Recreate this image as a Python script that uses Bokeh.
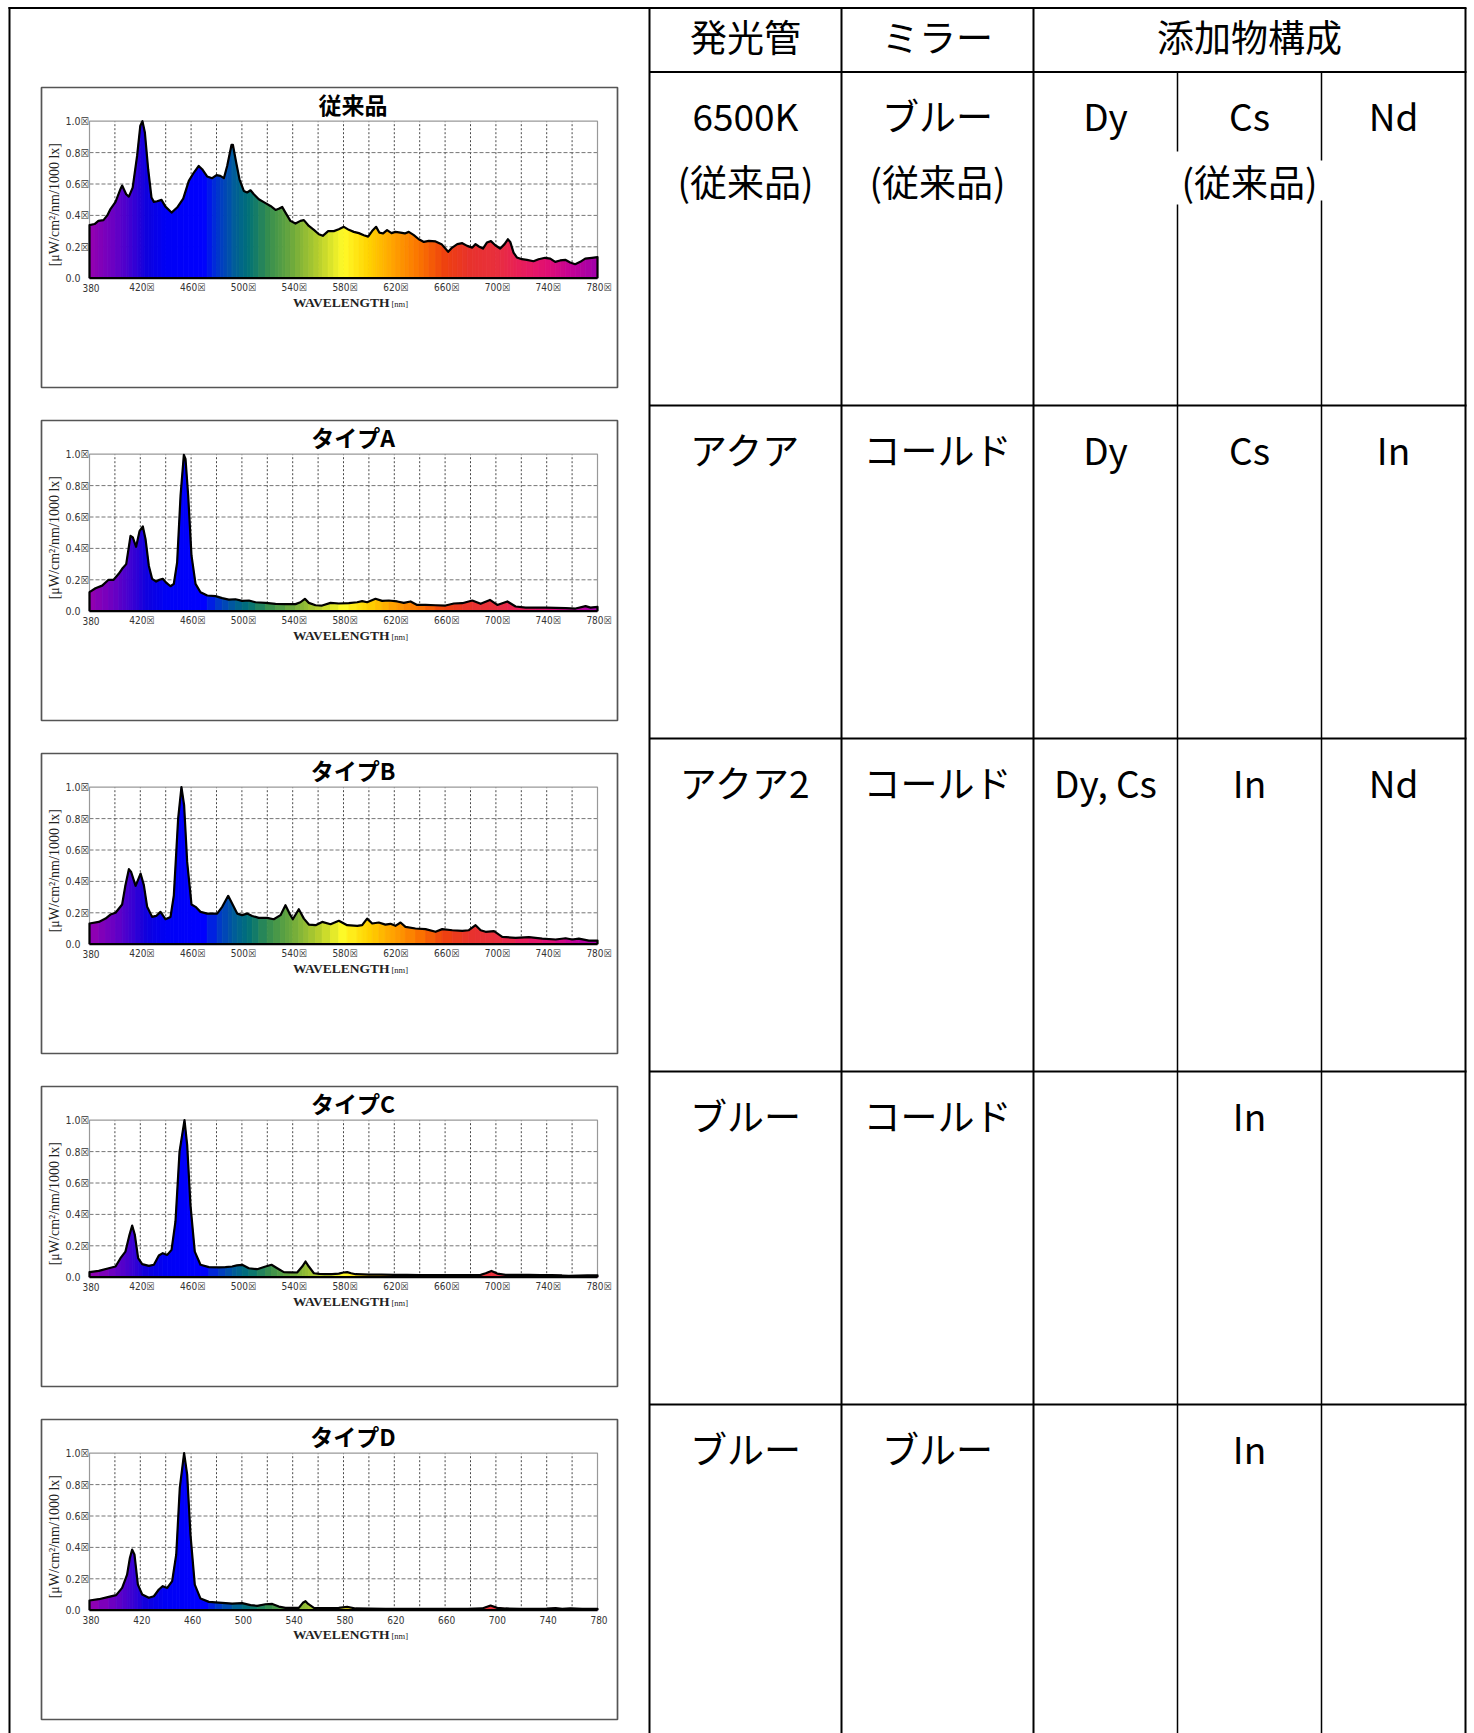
import numpy as np
from bokeh.plotting import figure
from bokeh.models import Range1d
from bokeh.core.properties import value
from bokeh.embed import file_html
from bokeh.resources import INLINE

# ---------------- data ----------------
chart_titles = ["従来品", "タイプA", "タイプB", "タイプC", "タイプD"]

wl_conv = [380, 384, 387, 391, 394, 396.5, 400.5, 404.5, 405.7, 408.9, 411, 414, 417.5, 420, 421.7,
           423.6, 426.2, 428.8, 430.7, 433.3, 436.7, 439.8, 444.6, 449, 453.8, 458.2, 462.2, 466,
           468.7, 472.6, 476.6, 480, 483, 485.8, 488.4, 491.8, 492.9, 495.5, 498.1, 501.5, 504.1,
           506.8, 509.4, 513.3, 518.6, 522.5, 526.5, 529, 531.7, 534.3, 538.2, 542.2, 546.1, 548.8,
           552.7, 556.7, 560.6, 563.7, 567.9, 572.4, 576.3, 580.3, 584.2, 588.1, 592.1, 596, 599.4,
           602.5, 605.7, 608.3, 611.2, 614.3, 617.8, 620.9, 624.9, 628.3, 631.4, 635.4, 639.3,
           643.3, 647.2, 652.5, 657.2, 662.4, 665.6, 669.6, 673.5, 677.4, 681.4, 684, 686.6, 689.8,
           692.9, 696.1, 699.5, 703.4, 706.8, 709.4, 711.3, 713.9, 716.5, 720.5, 724.4, 729.6,
           733.6, 738.8, 742.8, 746.7, 750.6, 754.6, 758.5, 762.4, 766.4, 770.3, 775.6, 780]
val_conv = [0.338, 0.345, 0.365, 0.37, 0.40, 0.44, 0.486, 0.57, 0.59, 0.535, 0.52, 0.577, 0.78, 0.97, 1.0,
            0.928, 0.694, 0.514, 0.486, 0.49, 0.499, 0.456, 0.418, 0.45, 0.507, 0.62, 0.673, 0.715,
            0.694, 0.648, 0.637, 0.656, 0.652, 0.637, 0.715, 0.849, 0.85, 0.737, 0.63, 0.556, 0.546,
            0.56, 0.535, 0.503, 0.478, 0.46, 0.435, 0.443, 0.454, 0.418, 0.365, 0.348, 0.365, 0.37,
            0.333, 0.308, 0.28, 0.27, 0.3, 0.3, 0.312, 0.327, 0.308, 0.295, 0.287, 0.274, 0.265,
            0.3, 0.327, 0.29, 0.285, 0.306, 0.287, 0.295, 0.29, 0.285, 0.295, 0.274, 0.248,
            0.231, 0.238, 0.234, 0.217, 0.168, 0.195, 0.217, 0.223, 0.206, 0.195, 0.217, 0.202, 0.189,
            0.227, 0.236, 0.21, 0.189, 0.217, 0.248, 0.231, 0.163, 0.132, 0.121, 0.117, 0.108,
            0.121, 0.13, 0.125, 0.104, 0.113, 0.117, 0.1, 0.089, 0.104, 0.125, 0.13, 0.134]

wl_a = [380, 384.7, 390, 395, 399, 403, 405.7, 408.9, 410.8, 412.3, 414.1, 416.7, 419.4, 422, 424.1,
        426.7, 429.3, 432.5, 435.1, 437.7, 440.6, 443.8, 446.4, 449, 451.7, 454.3, 455.6, 457.7,
        460.3, 463.5, 467.4, 472.7, 479.2, 484.5, 489.7, 495, 500.2, 505.5, 510.7, 518.6, 526.5,
        534.3, 542.2, 546.1, 549.6, 552.7, 558, 563.2, 569.8, 576.3, 584.2, 590.8, 594.7, 598.6,
        605.2, 610.4, 615.7, 622.3, 627.5, 632.8, 638, 644.6, 652.4, 660.3, 666.9, 673.5, 681.4,
        688, 695.3, 701.1, 709, 715.5, 723.4, 731, 739.2, 747, 754.9, 762.7, 770.6, 774.5, 780]
val_a = [0.121, 0.146, 0.163, 0.2, 0.2, 0.238, 0.27, 0.3, 0.40, 0.48, 0.47, 0.41, 0.51, 0.54, 0.46,
         0.29, 0.206, 0.189, 0.2, 0.206, 0.18, 0.159, 0.174, 0.31, 0.737, 0.996, 0.97, 0.737,
         0.355, 0.174, 0.121, 0.1, 0.096, 0.083, 0.074, 0.076, 0.066, 0.068, 0.057, 0.053, 0.047,
         0.045, 0.045, 0.057, 0.079, 0.053, 0.038, 0.036, 0.053, 0.049, 0.051, 0.057, 0.064, 0.057,
         0.079, 0.066, 0.068, 0.062, 0.053, 0.062, 0.04, 0.04, 0.038, 0.036, 0.049, 0.051, 0.068,
         0.047, 0.072, 0.04, 0.062, 0.03, 0.023, 0.023, 0.023, 0.021, 0.019, 0.017, 0.032, 0.023, 0.028]

wl_b = [380, 387.3, 392.6, 396.5, 400.5, 405.7, 408.3, 411, 412.8, 416.3, 420.2, 422.8, 425.4, 429.3,
        432.5, 435.9, 439.8, 443.8, 446.4, 449.8, 452.4, 454.5, 456.9, 460.3, 463.5, 467.4, 472.7,
        480.5, 484.5, 489.2, 492.3, 496.3, 500.2, 504.1, 508.1, 513.3, 519.9, 525.1, 530.4, 534.3,
        537.5, 540.1, 544.8, 548.8, 552.7, 558, 563.2, 569.8, 576.3, 582.9, 590.8, 594.7, 598.6,
        602.6, 607.8, 613, 617, 620.9, 624.9, 628.8, 636.7, 644.6, 652.5, 657.7, 665.6, 673.5,
        678.7, 684, 688, 691.9, 698.5, 705, 715.5, 726, 736.5, 747, 754.9, 760.1, 765.3, 773.2, 780]
val_b = [0.132, 0.142, 0.163, 0.189, 0.2, 0.253, 0.376, 0.478, 0.46, 0.372, 0.45, 0.376, 0.238, 0.174,
         0.18, 0.206, 0.159, 0.174, 0.31, 0.8, 1.0, 0.885, 0.524, 0.253, 0.238, 0.206, 0.195,
         0.195, 0.238, 0.308, 0.259, 0.195, 0.185, 0.195, 0.18, 0.168, 0.168, 0.159, 0.185, 0.248,
         0.195, 0.159, 0.223, 0.163, 0.125, 0.121, 0.142, 0.127, 0.149, 0.121, 0.117, 0.121, 0.163,
         0.132, 0.138, 0.125, 0.13, 0.117, 0.138, 0.11, 0.1, 0.096, 0.079, 0.096, 0.089, 0.085,
         0.089, 0.121, 0.089, 0.079, 0.083, 0.047, 0.04, 0.045, 0.036, 0.03, 0.038, 0.03, 0.036, 0.023, 0.023]

wl_c = [380, 387.3, 395.2, 400.5, 404.4, 408.3, 411.5, 413.6, 415.7, 418.3, 421.5, 426.7, 430.7,
        434.6, 437.7, 441.2, 444.6, 447.7, 450.9, 454.8, 456.9, 459.5, 462.9, 467.4, 474, 481.8,
        487, 492.3, 496, 500.2, 505.5, 512, 518.6, 523.3, 527.8, 533, 538, 543.5, 547.5, 550.1,
        552.7, 556.7, 561, 565.8, 571, 576.3, 580, 582.9, 586, 589.5, 595, 600, 610, 620, 630,
        640, 650, 660, 670, 680, 688, 692, 696.5, 701, 707.6, 716, 726, 735, 744, 752, 757.4,
        765, 772, 780]
val_c = [0.032, 0.04, 0.057, 0.068, 0.121, 0.163, 0.27, 0.329, 0.27, 0.121, 0.083, 0.072, 0.079,
         0.138, 0.153, 0.142, 0.174, 0.355, 0.8, 1.0, 0.843, 0.46, 0.163, 0.079, 0.064, 0.062,
         0.064, 0.068, 0.075, 0.079, 0.057, 0.051, 0.068, 0.079, 0.057, 0.032, 0.031, 0.03, 0.068, 0.1,
         0.068, 0.025, 0.021, 0.019, 0.02, 0.023, 0.03, 0.032, 0.025, 0.019, 0.018, 0.017, 0.016, 0.015, 0.015,
         0.014, 0.013, 0.013, 0.013, 0.013, 0.015, 0.025, 0.04, 0.023, 0.015, 0.015, 0.015, 0.014, 0.013, 0.011, 0.008,
         0.01, 0.011, 0.011]

wl_d = [380, 387.3, 395.2, 401, 405.7, 409.6, 411.8, 413.6, 415.4, 418.1, 421.5, 426.7, 430.7,
        434.6, 437.7, 441.2, 445.1, 448.3, 451.1, 454.5, 456.9, 459.5, 462.9, 467.4, 474, 479,
        484.5, 492.3, 500.2, 506.8, 512, 518.6, 523.9, 529.1, 534.3, 540, 544.8, 548, 550.1,
        552.2, 556.7, 561, 565.8, 571, 576.3, 582.9, 589.5, 600, 613.1, 626, 639.3, 652, 665.6,
        678, 689.2, 695.8, 701, 707.6, 719, 731.2, 740, 747, 752.2, 758.7, 767.9, 774, 780]
val_d = [0.062, 0.07, 0.085, 0.096, 0.142, 0.227, 0.333, 0.386, 0.355, 0.163, 0.1, 0.079, 0.089,
         0.132, 0.153, 0.142, 0.185, 0.355, 0.779, 1.0, 0.864, 0.482, 0.163, 0.074, 0.053, 0.05,
         0.047, 0.042, 0.045, 0.032, 0.028, 0.038, 0.04, 0.023, 0.015, 0.015, 0.015, 0.047, 0.057,
         0.04, 0.015, 0.014, 0.013, 0.014, 0.015, 0.021, 0.011, 0.01, 0.008, 0.008, 0.008, 0.008, 0.008,
         0.009, 0.011, 0.03, 0.015, 0.011, 0.009, 0.008, 0.01, 0.013, 0.008, 0.011, 0.008, 0.008, 0.008]

chart_wl = [wl_conv, wl_a, wl_b, wl_c, wl_d]
chart_val = [val_conv, val_a, val_b, val_c, val_d]

x_ticks = [380, 420, 460, 500, 540, 580, 620, 660, 700, 740, 780]
x_tick_labels_boxed = ["380", "420☒", "460☒", "500☒", "540☒", "580☒", "620☒", "660☒", "700☒", "740☒", "780☒"]
x_tick_labels_plain = ["380", "420", "460", "500", "540", "580", "620", "660", "700", "740", "780"]
chart_x_labels = [x_tick_labels_boxed] * 4 + [x_tick_labels_plain]
y_ticks = [0.0, 0.2, 0.4, 0.6, 0.8, 1.0]
y_tick_labels = ["0.0", "0.2☒", "0.4☒", "0.6☒", "0.8☒", "1.0☒"]
grid_x = [400, 420, 440, 460, 480, 500, 520, 540, 560, 580, 600, 620, 640, 660, 680, 700, 720, 740, 760]
grid_y = [0.2, 0.4, 0.6, 0.8]
x_title = "WAVELENGTH"
x_unit = "[nm]"
y_title = "[μW/cm²/nm/1000 lx]"

table_header = ["発光管", "ミラー", "添加物構成"]
col_lamp = ["6500K", "アクア", "アクア2", "ブルー", "ブルー"]
col_mirror = ["ブルー", "コールド", "コールド", "コールド", "ブルー"]
col_add1 = ["Dy", "Dy", "Dy, Cs", "", ""]
col_add2 = ["Cs", "Cs", "In", "In", "In"]
col_add3 = ["Nd", "In", "Nd", "", ""]
note_text = "(従来品)"

# ---------------- styles / layout ----------------
SPEC_WL = [380, 400, 415, 425, 440, 470, 480, 495, 505, 520, 540, 560, 580, 600, 620, 640, 660,
           680, 700, 720, 740, 760, 780]
SPEC_RGB = [(150, 0, 175), (105, 0, 195), (55, 0, 212), (15, 0, 222), (0, 0, 245), (0, 0, 255),
            (0, 50, 210), (0, 95, 150), (0, 112, 120), (50, 140, 80), (110, 170, 60), (180, 205, 45),
            (255, 250, 40), (255, 210, 0), (255, 160, 0), (250, 115, 0), (238, 65, 15), (232, 50, 45),
            (232, 48, 60), (232, 30, 90), (225, 15, 115), (195, 0, 150), (160, 0, 170)]


def spec_color(w):
    r = np.interp(w, SPEC_WL, [c[0] for c in SPEC_RGB])
    g = np.interp(w, SPEC_WL, [c[1] for c in SPEC_RGB])
    b = np.interp(w, SPEC_WL, [c[2] for c in SPEC_RGB])
    return "#%02x%02x%02x" % (int(round(r)), int(round(g)), int(round(b)))


W, H = 1474, 1733
ORG = 0
COLS = [649, 841, 1033, 1177, 1321, 1465]
COL_CENTERS = [745, 937, 1105, 1249, 1393]
TOP_Y = 7.5
LEFT_X = 9
HEADER_B = 71.5
ROW_TOPS = [71.5, 405, 738, 1071, 1404]
BOTTOM = ORG + H
BOX_L, BOX_R, BOX_T0, BOX_H, PITCH = 41, 617, 87, 300, 333
PLOT_L, PLOT_R = 89, 597
PLOT_TOP0, PLOT_ZERO0 = 120.7, 277.7
TXT_DY = -3

TABLE_FONT = value("Noto Sans CJK JP")
TICK_FONT = value("DejaVu Sans Condensed")
SERIF = value("Liberation Serif")

p = figure(width=W, height=H, x_range=Range1d(ORG, ORG + W), y_range=Range1d(ORG + H, ORG),
           output_backend="svg", toolbar_location=None, min_border=0,
           x_axis_type=None, y_axis_type=None, outline_line_color=None)
p.background_fill_color = "white"
p.border_fill_color = "white"

px_per_nm = (PLOT_R - PLOT_L) / 400.0
unit_px = PLOT_ZERO0 - PLOT_TOP0
p.extra_x_ranges = {"wl": Range1d(380 - (PLOT_L - ORG) / px_per_nm, 780 + (ORG + W - PLOT_R) / px_per_nm)}
yr = {}
for k in range(5):
    y0 = PLOT_ZERO0 + PITCH * k
    yr[f"c{k}"] = Range1d((y0 - (ORG + H)) / unit_px, (y0 - ORG) / unit_px)
p.extra_y_ranges = yr

# ---------------- page frame & table ----------------
hx0, hy0, hx1, hy1 = [], [], [], []
def seg(a, b, c, d):
    hx0.append(a); hy0.append(b); hx1.append(c); hy1.append(d)

seg(LEFT_X - 1, TOP_Y, COLS[-1] + 1, TOP_Y)
seg(LEFT_X, TOP_Y - 1, LEFT_X, BOTTOM)
for cx in [COLS[0], COLS[1], COLS[2], COLS[5]]:
    seg(cx, TOP_Y, cx, BOTTOM)
for ry in ROW_TOPS:
    seg(COLS[0], ry, COLS[-1] + 1, ry)
p.segment(x0=hx0, y0=hy0, x1=hx1, y1=hy1, line_color="black", line_width=2)

# sub-columns of 添加物構成 with gap for the "(従来品)" note
sx0 = [COLS[3], COLS[3], COLS[4], COLS[4]]
sy0 = [HEADER_B, 204, HEADER_B, 200]
sy1 = [151, BOTTOM, 160, BOTTOM]
p.segment(x0=sx0, y0=sy0, x1=sx0, y1=sy1, line_color="black", line_width=1.5)

hdr_x = [COL_CENTERS[0], COL_CENTERS[1], (COLS[2] + COLS[5]) / 2]
p.text(x=hdr_x, y=[38 + TXT_DY] * 3, text=table_header, text_font=TABLE_FONT, text_font_size="37px",
       text_align="center", text_baseline="middle", text_color="black")

tx, ty, tt = [], [], []
for r in range(5):
    yline = ROW_TOPS[r] + 46 + TXT_DY
    for c, col in enumerate([col_lamp, col_mirror, col_add1, col_add2, col_add3]):
        if col[r]:
            tx.append(COL_CENTERS[c]); ty.append(yline); tt.append(col[r])
# second line notes in first row
for c in [0, 1, 3]:
    tx.append(COL_CENTERS[c]); ty.append(ROW_TOPS[0] + 111.5 + TXT_DY); tt.append(note_text)
p.text(x=tx, y=ty, text=tt, text_font=TABLE_FONT, text_font_size="37px",
       text_align="center", text_baseline="middle", text_color="black")

# ---------------- spectra ----------------
for k in range(5):
    xn, yn = "wl", f"c{k}"
    wl, val = chart_wl[k], chart_val[k]
    top = BOX_T0 + PITCH * k
    p.quad(left=[BOX_L], right=[BOX_R], top=[top], bottom=[top + BOX_H],
           fill_color="white", line_color="#555555", line_width=1.7)

    n = len(grid_x)
    p.segment(x0=grid_x, y0=[0] * n, x1=grid_x, y1=[1] * n, line_color="#333333",
              line_dash="2 2", line_width=0.9, x_range_name=xn, y_range_name=yn)
    m = len(grid_y)
    p.segment(x0=[380] * m, y0=grid_y, x1=[780] * m, y1=grid_y, line_color="#666666",
              line_dash="4 2", line_width=0.9, x_range_name=xn, y_range_name=yn)
    p.multi_line(xs=[[380, 380, 780, 780]], ys=[[0, 1, 1, 0]], line_color="#999999",
                 line_width=1.2, x_range_name=xn, y_range_name=yn)

    xs, ys, cols = [], [], []
    for i in range(len(wl) - 1):
        xs.append([wl[i], wl[i], wl[i + 1], wl[i + 1]])
        ys.append([0, val[i], val[i + 1], 0])
        cols.append(spec_color((wl[i] + wl[i + 1]) / 2.0))
    p.patches(xs=xs, ys=ys, fill_color=cols, line_color=cols, line_width=0.8,
              x_range_name=xn, y_range_name=yn)
    p.line(x=[wl[0]] + wl + [wl[-1]], y=[0] + val + [0], line_color="black", line_width=2.2,
           line_join="round", x_range_name=xn, y_range_name=yn)
    p.segment(x0=[380], y0=[0], x1=[780], y1=[0], line_color="black", line_width=2.2,
              x_range_name=xn, y_range_name=yn)

    # tick labels
    p.text(x=[380] * len(y_ticks), y=y_ticks, text=y_tick_labels, x_offset=-24,
           text_align="left", text_baseline="middle", text_font=TICK_FONT,
           text_font_size="10.5px", text_color="#333333", x_range_name=xn, y_range_name=yn)
    p.text(x=x_ticks, y=[0] * len(x_ticks), text=chart_x_labels[k], x_offset=1.5, y_offset=9.5,
           text_align="center", text_baseline="middle", text_font=TICK_FONT,
           text_font_size="10px", text_color="#333333", x_range_name=xn, y_range_name=yn)
    # axis titles
    p.text(x=[580], y=[0], text=[x_title], x_offset=46, y_offset=24.5, text_align="right",
           text_baseline="middle", text_font=SERIF, text_font_style="bold",
           text_font_size="13.5px", text_color="#222222", x_range_name=xn, y_range_name=yn)
    p.text(x=[580], y=[0], text=[x_unit], x_offset=48, y_offset=25.5, text_align="left",
           text_baseline="middle", text_font=SERIF,
           text_font_size="8.5px", text_color="#222222", x_range_name=xn, y_range_name=yn)
    p.text(x=[380], y=[0.5], text=[y_title], x_offset=-35, y_offset=5, angle=np.pi / 2,
           text_align="center", text_baseline="middle", text_font=SERIF,
           text_font_size="14px", text_color="#222222", x_range_name=xn, y_range_name=yn)
    # chart title
    p.text(x=[580], y=[1.0], text=[chart_titles[k]], x_offset=9.5, y_offset=-17.5,
           text_align="center", text_baseline="middle", text_font=TABLE_FONT,
           text_font_style="bold", text_font_size="23px", text_color="black",
           x_range_name=xn, y_range_name=yn)

open("out.html", "w").write(file_html(p, INLINE))
